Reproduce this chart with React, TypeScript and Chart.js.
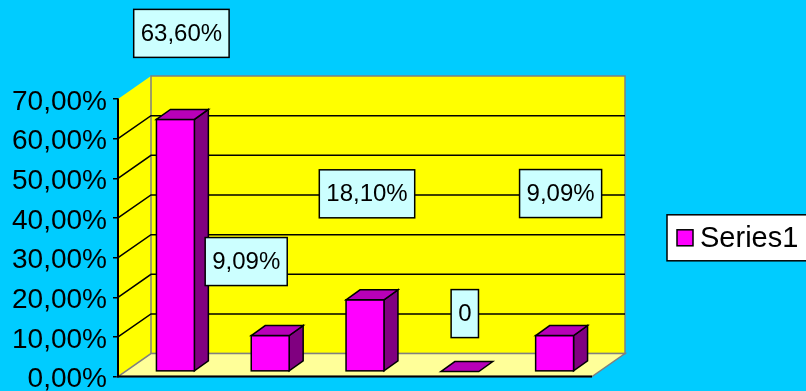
import React, { useEffect, useRef } from 'react';
import { Chart, registerables } from 'chart.js';

Chart.register(...registerables);

// ---- data ----
const categories = ['1', '2', '3', '4', '5'];
const seriesName = 'Series1';
const series1 = [63.6, 9.09, 18.1, 0, 9.09];
const yMin = 0;
const yMax = 70;
const yStep = 10;

// ---- styles ----
const BG = '#00CCFF';
const WALL = '#FFFF00';
const FLOOR = '#FFFF99';
const BAR_FRONT = '#FF00FF';
const BAR_SIDE = '#800080';
const BAR_TOP = '#B800B8';
const LABEL_FILL = '#CCFFFF';
const FONT = '"Liberation Sans", Arial, sans-serif';

const WALL_DX = 33;
const WALL_DY = -23;
const BAR_DX = 10;
const BAR_DY = -5;
const SIDE_DX = 14;
const SIDE_DY = -10;

// label center offsets relative to the bar's top-front position
const labelOffsets: [number, number][] = [
  [6, -91],
  [-24, -79],
  [2, -111],
  [5, -63],
  [6, -147],
];

const fmtPct = (v: number) => v.toFixed(2).replace('.', ',') + '%';
const fmtLabel = (v: number) => (v === 0 ? '0' : fmtPct(v));

const wallsPlugin = {
  id: 'walls3d',
  beforeDatasetsDraw(chart: any) {
    const ctx = chart.ctx as CanvasRenderingContext2D;
    const { left, right, top, bottom } = chart.chartArea;
    const ys = chart.scales.y;
    ctx.save();
    // left wall
    ctx.beginPath();
    ctx.moveTo(left, bottom);
    ctx.lineTo(left, top);
    ctx.lineTo(left + WALL_DX, top + WALL_DY);
    ctx.lineTo(left + WALL_DX, bottom + WALL_DY);
    ctx.closePath();
    ctx.fillStyle = WALL;
    ctx.fill();
    // back wall
    ctx.fillStyle = WALL;
    ctx.fillRect(left + WALL_DX, top + WALL_DY, right - left, bottom - top);
    ctx.strokeStyle = '#808080';
    ctx.lineWidth = 1.5;
    ctx.strokeRect(left + WALL_DX, top + WALL_DY, right - left, bottom - top);
    // floor
    ctx.beginPath();
    ctx.moveTo(left, bottom);
    ctx.lineTo(left + WALL_DX, bottom + WALL_DY);
    ctx.lineTo(right + WALL_DX, bottom + WALL_DY);
    ctx.lineTo(right, bottom);
    ctx.closePath();
    ctx.fillStyle = FLOOR;
    ctx.fill();
    ctx.strokeStyle = '#808080';
    ctx.stroke();
    // gridlines
    ctx.strokeStyle = '#000000';
    ctx.lineWidth = 1.5;
    for (let v = yMin + yStep; v < yMax; v += yStep) {
      const py = ys.getPixelForValue(v);
      ctx.beginPath();
      ctx.moveTo(left, py);
      ctx.lineTo(left + WALL_DX, py + WALL_DY);
      ctx.lineTo(right + WALL_DX, py + WALL_DY);
      ctx.stroke();
    }
    // front axis lines
    ctx.lineWidth = 2;
    ctx.beginPath();
    ctx.moveTo(left, top);
    ctx.lineTo(left, bottom);
    ctx.lineTo(right, bottom);
    ctx.stroke();
    ctx.restore();
  },
  afterDatasetsDraw(chart: any) {
    const ctx = chart.ctx as CanvasRenderingContext2D;
    const meta = chart.getDatasetMeta(0);
    ctx.save();
    ctx.strokeStyle = '#000000';
    ctx.lineWidth = 1.5;
    ctx.lineJoin = 'miter';
    meta.data.forEach((el: any) => {
      const { x, y, base, width } = el.getProps(['x', 'y', 'base', 'width'], true);
      const fx = x - width / 2 + BAR_DX;
      const ft = y + BAR_DY;
      const fb = base + BAR_DY;
      const h = fb - ft;
      if (h > 0.5) {
        // side
        ctx.beginPath();
        ctx.moveTo(fx + width, ft);
        ctx.lineTo(fx + width + SIDE_DX, ft + SIDE_DY);
        ctx.lineTo(fx + width + SIDE_DX, fb + SIDE_DY);
        ctx.lineTo(fx + width, fb);
        ctx.closePath();
        ctx.fillStyle = BAR_SIDE;
        ctx.fill();
        ctx.stroke();
        // front
        ctx.fillStyle = BAR_FRONT;
        ctx.fillRect(fx, ft, width, h);
        ctx.strokeRect(fx, ft, width, h);
      }
      // top
      ctx.beginPath();
      ctx.moveTo(fx, ft);
      ctx.lineTo(fx + SIDE_DX, ft + SIDE_DY);
      ctx.lineTo(fx + width + SIDE_DX, ft + SIDE_DY);
      ctx.lineTo(fx + width, ft);
      ctx.closePath();
      ctx.fillStyle = BAR_TOP;
      ctx.fill();
      ctx.stroke();
    });
    ctx.restore();
  },
  afterDraw(chart: any) {
    const ctx = chart.ctx as CanvasRenderingContext2D;
    const meta = chart.getDatasetMeta(0);
    const { right, top, bottom } = chart.chartArea;
    ctx.save();
    // data labels
    ctx.font = `24px ${FONT}`;
    ctx.textBaseline = 'middle';
    ctx.textAlign = 'center';
    meta.data.forEach((el: any, i: number) => {
      const { x, y } = el.getProps(['x', 'y'], true);
      const txt = fmtLabel(series1[i]);
      const [ox, oy] = labelOffsets[i];
      const cx = x + BAR_DX + ox;
      const cy = y + oy;
      const w = ctx.measureText(txt).width + 14;
      const h = 48;
      ctx.fillStyle = LABEL_FILL;
      ctx.fillRect(cx - w / 2, cy - h / 2, w, h);
      ctx.strokeStyle = '#000000';
      ctx.lineWidth = 1.5;
      ctx.strokeRect(cx - w / 2, cy - h / 2, w, h);
      ctx.fillStyle = '#000000';
      ctx.fillText(txt, cx, cy + 1);
    });
    // legend
    const lx = right + 75;
    const lcy = (top + bottom) / 2;
    ctx.fillStyle = '#FFFFFF';
    ctx.fillRect(lx, lcy - 23, 150, 46);
    ctx.strokeStyle = '#000000';
    ctx.lineWidth = 1.5;
    ctx.strokeRect(lx, lcy - 23, 150, 46);
    ctx.fillStyle = BAR_FRONT;
    ctx.fillRect(lx + 10, lcy - 8, 16, 16);
    ctx.strokeRect(lx + 10, lcy - 8, 16, 16);
    ctx.fillStyle = '#000000';
    ctx.font = `29px ${FONT}`;
    ctx.textAlign = 'left';
    ctx.fillText(seriesName, lx + 33, lcy + 1);
    ctx.restore();
  },
};

export default function App() {
  const ref = useRef<HTMLCanvasElement | null>(null);
  useEffect(() => {
    if (!ref.current) return;
    const chart = new Chart(ref.current, {
      type: 'bar',
      data: {
        labels: categories,
        datasets: [
          {
            label: seriesName,
            data: series1,
            backgroundColor: 'rgba(0,0,0,0)',
            borderWidth: 0,
            categoryPercentage: 0.8,
            barPercentage: 0.5,
          },
        ],
      },
      options: {
        responsive: false,
        animation: false,
        layout: { padding: { top: 99, bottom: 14, left: 0, right: 214 } },
        plugins: {
          legend: { display: false },
          tooltip: { enabled: false },
          title: { display: false },
        },
        scales: {
          x: { display: false },
          y: {
            min: yMin,
            max: yMax,
            ticks: {
              stepSize: yStep,
              color: '#000000',
              font: { family: FONT, size: 28, lineHeight: 0.6 },
              padding: 6,
              labelOffset: 3,
              callback: (v: any) => fmtPct(Number(v)),
            },
            grid: {
              drawOnChartArea: false,
              drawTicks: true,
              tickLength: 5,
              color: '#000000',
              lineWidth: 1.5,
            },
            border: { display: true, color: '#000000', width: 2 },
            afterFit: (scale: any) => {
              scale.width = 118;
            },
          },
        },
      },
      plugins: [wallsPlugin],
    });
    return () => chart.destroy();
  }, []);
  return (
    <div style={{ position: 'fixed', left: 0, top: 0, width: 806, height: 391, background: BG, overflow: 'hidden' }}>
      <canvas ref={ref} width={806} height={391} style={{ display: 'block' }} />
    </div>
  );
}
